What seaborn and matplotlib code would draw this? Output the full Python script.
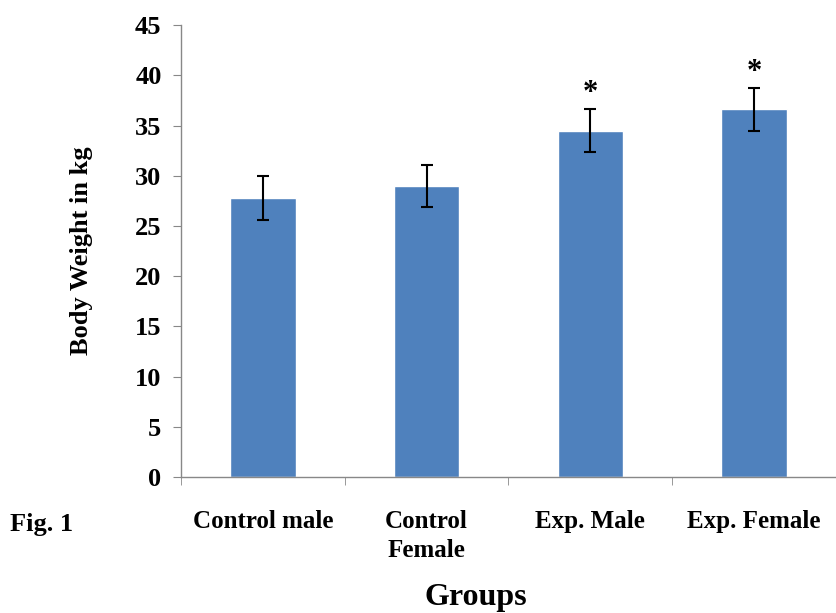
import numpy as np
import pandas as pd
import matplotlib
matplotlib.use("Agg")
import matplotlib.pyplot as plt
import seaborn as sns

# Data
groups = ["Control male", "Control\nFemale", "Exp. Male", "Exp. Female"]
body_weight = [27.8, 29.0, 34.5, 36.6]
sd = [2.2, 2.1, 2.1, 2.1]
significant = [False, False, True, True]

sns.set_style("white")
plt.rcParams["font.family"] = ["Liberation Serif", "DejaVu Serif"]
plt.rcParams["font.weight"] = "bold"
plt.rcParams["text.color"] = "black"
plt.rcParams["axes.labelcolor"] = "black"

df = pd.DataFrame({"group": groups, "weight": body_weight})

fig = plt.figure(figsize=(8.36, 6.13), dpi=100)
ax = fig.add_axes([0.2165, 0.222, 0.7835, 0.737])

sns.barplot(data=df, x="group", y="weight", color="#4F81BD", saturation=1,
            width=0.4, errorbar=None, ax=ax)
ax.errorbar(range(len(groups)), body_weight, yerr=sd, fmt="none",
            ecolor="black", elinewidth=1.5, capsize=4, capthick=1.5)

# significance marks
for i, (v, e, s) in enumerate(zip(body_weight, sd, significant)):
    if s:
        ax.text(i, v + e + 0.1, "*", ha="center", va="bottom",
                fontsize=22, fontweight="bold", color="black")

ax.set_ylim(0, 45)
ax.set_yticks(range(0, 46, 5))
ax.set_xlim(-0.5, 3.47)

# ticks between categories, like the original
ax.set_xticks(np.arange(-0.5, 3.6, 1), minor=True)
ax.tick_params(axis="x", which="major", bottom=False, length=0, pad=24,
               labelcolor="black")
ax.tick_params(axis="x", which="minor", bottom=True, length=6,
               color="#888888", direction="out")
ax.tick_params(axis="y", left=True, length=6, color="#888888",
               direction="out", pad=8, labelcolor="black")
ax.set_xticklabels(groups, fontsize=18, fontweight="bold", linespacing=1.3,
                   va="top")
for lab in ax.get_yticklabels():
    lab.set_fontsize(19)
    lab.set_fontweight("bold")

for side in ["top", "right"]:
    ax.spines[side].set_visible(False)
for side in ["left", "bottom"]:
    ax.spines[side].set_color("#888888")
    ax.spines[side].set_linewidth(1)

ax.set_xlabel("Groups", fontsize=23, fontweight="bold")
ax.xaxis.set_label_coords(0.45, -0.235)
ax.set_ylabel("Body Weight in kg", fontsize=19, fontweight="bold")
ax.yaxis.set_label_coords(-0.134, 0.5)

fig.text(0.012, 0.145, "Fig. 1", fontsize=19, fontweight="bold", va="center",
         color="black")

fig.savefig("out.png", dpi=100)
